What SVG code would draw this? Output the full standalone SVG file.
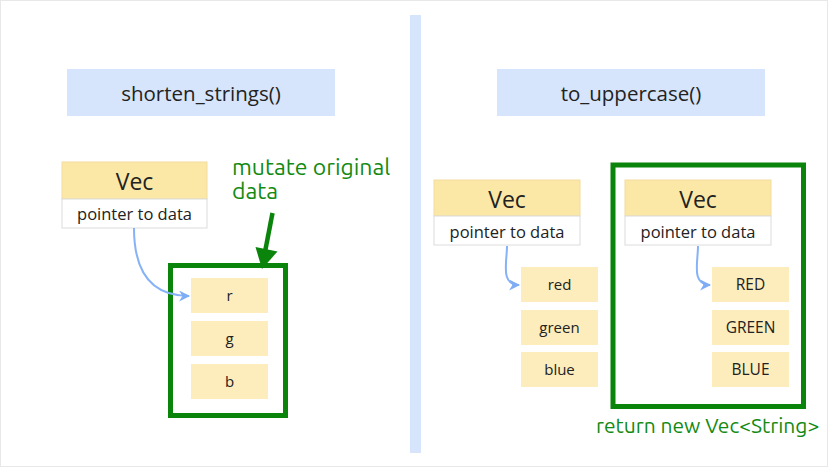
<svg xmlns="http://www.w3.org/2000/svg" width="830" height="467" viewBox="0 0 830 467">
<defs>
<style>
.t{font-family:"Open Sans","Noto Sans",sans-serif;fill:#222;text-anchor:middle}
.title{fill:#d6e5fb}
.hdr{fill:#fce8a6;stroke:#f2dca0;stroke-width:1}
.body{fill:#fff;stroke:#dcdcdc;stroke-width:1}
.item{fill:#fdedbc}
.grn{fill:none;stroke:#0b840b;stroke-width:5}
.gt{font-family:"Ubuntu","Open Sans","Noto Sans",sans-serif;fill:#138a13}
.ptr{fill:none;stroke:#86b2f7;stroke-width:2}
</style>
<marker id="ah" viewBox="0 0 10 10" refX="9" refY="5" markerWidth="11" markerHeight="11" orient="auto" markerUnits="userSpaceOnUse">
<path d="M0,0 L10,5 L0,10 L3,5 Z" fill="#7eadf6"/>
</marker>
</defs>
<rect x="0" y="0" width="830" height="467" fill="#fff"/>
<rect x="0.5" y="0.5" width="827" height="466" fill="none" stroke="#e8e8e8" stroke-width="1"/>
<rect x="410" y="15" width="11" height="438" fill="#d6e5fb"/>

<g id="title-left"><rect class="title" x="67" y="69" width="268" height="47"/><text class="t" x="201" y="100.5" font-size="20.5">shorten_strings()</text></g>
<g id="title-right"><rect class="title" x="497" y="69" width="268" height="47"/><text class="t" x="631" y="100.5" font-size="20.5">to_uppercase()</text></g>

<g id="vec-left">
<rect class="hdr" x="62" y="162" width="145" height="37"/>
<rect class="body" x="62" y="199" width="145" height="29"/>
<text class="t" x="134.5" y="190" font-size="23">Vec</text>
<text class="t" x="134.5" y="220" font-size="16.5">pointer to data</text>
</g>
<g id="data-left">
<rect class="grn" x="170.5" y="265.5" width="115" height="150"/>
<rect class="item" x="191" y="278" width="77" height="35"/><text class="t" x="229.5" y="301" font-size="15">r</text>
<rect class="item" x="191" y="321" width="77" height="35"/><text class="t" x="229.5" y="344" font-size="15">g</text>
<rect class="item" x="191" y="364" width="77" height="35"/><text class="t" x="229.5" y="387" font-size="15">b</text>
</g>
<g id="note-left">
<text class="gt" x="232" y="175" font-size="23">mutate original</text>
<text class="gt" x="232" y="199" font-size="23">data</text>
</g>

<g id="vec-right-orig">
<rect class="hdr" x="434" y="180" width="146" height="36"/>
<rect class="body" x="434" y="216" width="146" height="29"/>
<text class="t" x="507" y="207.5" font-size="23">Vec</text>
<text class="t" x="507" y="238" font-size="16.5">pointer to data</text>
</g>
<g id="data-right-orig">
<rect class="item" x="521" y="267" width="77" height="35"/><text class="t" x="559.5" y="290" font-size="15">red</text>
<rect class="item" x="521" y="310" width="77" height="35"/><text class="t" x="559.5" y="333" font-size="15">green</text>
<rect class="item" x="521" y="352" width="77" height="35"/><text class="t" x="559.5" y="375" font-size="15">blue</text>
</g>
<g id="new-vec">
<rect class="grn" x="613" y="165" width="190.5" height="241.5"/>
<rect class="hdr" x="625" y="180" width="146" height="36"/>
<rect class="body" x="625" y="216" width="146" height="29"/>
<text class="t" x="698" y="207.5" font-size="23">Vec</text>
<text class="t" x="698" y="238" font-size="16.5">pointer to data</text>
<rect class="item" x="712" y="267" width="77" height="35"/><text class="t" x="750.5" y="290" font-size="15.5">RED</text>
<rect class="item" x="712" y="310" width="77" height="35"/><text class="t" x="750.5" y="333" font-size="15.5">GREEN</text>
<rect class="item" x="712" y="352" width="77" height="35"/><text class="t" x="750.5" y="375" font-size="15.5">BLUE</text>
</g>
<g id="note-right"><text class="gt" x="596" y="433" font-size="21">return new Vec&lt;String&gt;</text></g>

<g id="connectors">
<path class="ptr" d="M134,228 C134,270 150,296 189,296" marker-end="url(#ah)"/>
<path class="ptr" d="M507,246 C507,262 500,285 519,285" marker-end="url(#ah)"/>
<path class="ptr" d="M698,246 C698,262 691,285 710,285" marker-end="url(#ah)"/>
<line x1="272.5" y1="213" x2="265" y2="252" stroke="#0b840b" stroke-width="4.5"/>
<path d="M255.5,247 L277.5,251.5 L262,269 Z" fill="#0b840b"/>
</g>
</svg>
